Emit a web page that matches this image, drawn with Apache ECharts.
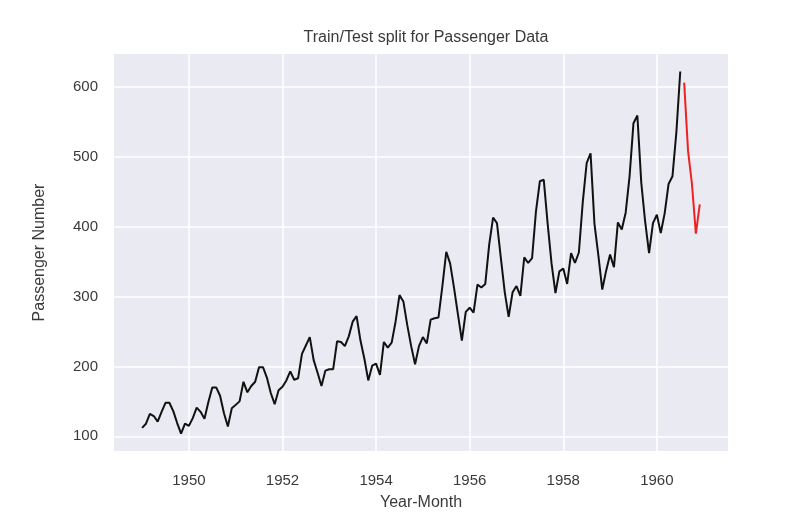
<!DOCTYPE html>
<html>
<head>
<meta charset="utf-8">
<script src="https://cdn.jsdelivr.net/npm/echarts@6/dist/echarts.min.js"></script>
<style>
  html, body { margin: 0; padding: 0; background: #fff; }
  #chart { width: 810px; height: 518px; }
</style>
</head>
<body>
<div id="chart"></div>
<script>
// monthly passengers, 1949-01 .. 1960-12
const years = [1949, 1950, 1951, 1952, 1953, 1954, 1955, 1956, 1957, 1958, 1959, 1960]
const passengers = [
  112,118,132,129,121,135,148,148,136,119,104,118,
  115,126,141,135,125,149,170,170,158,133,114,140,
  145,150,178,163,172,178,199,199,184,162,146,166,
  171,180,193,181,183,218,230,242,209,191,172,194,
  196,196,236,235,229,243,264,272,237,211,180,201,
  204,188,235,227,234,264,302,293,259,229,203,229,
  242,233,267,269,270,315,364,347,312,274,237,278,
  284,277,317,313,318,374,413,405,355,306,271,306,
  315,301,356,348,355,422,465,467,404,347,305,336,
  340,318,362,348,363,435,491,505,404,359,310,337,
  360,342,406,396,420,472,548,559,463,407,362,405,
  417,391,419,461,472,535,622,606,508,461,390,432
]
const trainCount = 139   // up to 1960-07, rest is test
const xTicks = [1950, 1952, 1954, 1956, 1958, 1960]
const yTicks = [100, 200, 300, 400, 500, 600]

const points = passengers.map((v, i) => [years[0] + i / 12, v])
const train = points.slice(0, trainCount)
const test = points.slice(trainCount)

const myChart = echarts.init(document.getElementById('chart'))
const textColor = '#3a3a3a'

const option = {
  animation: false,
  textStyle: { fontFamily: 'Liberation Sans, Arial, sans-serif' },
  title: {
    text: 'Train/Test split for Passenger Data',
    left: 421, top: 25, textAlign: 'center',
    textStyle: { fontSize: 16, fontWeight: 'normal', color: textColor }
  },
  grid: {
    left: 114, right: 82, top: 54, bottom: 67,
    show: true, backgroundColor: '#EAEAF2', borderWidth: 0
  },
  xAxis: {
    type: 'value',
    min: 1948.4, max: 1961.52,
    name: 'Year-Month', nameLocation: 'middle', nameGap: 44,
    nameTextStyle: { fontSize: 16, color: textColor },
    axisLine: { show: false },
    axisTick: { show: false, customValues: xTicks },
    axisLabel: {
      customValues: xTicks, fontSize: 15, color: textColor, margin: 22,
      formatter: v => String(v)
    },
    splitLine: { show: true, lineStyle: { color: '#fff', width: 1.5 } }
  },
  yAxis: {
    type: 'value',
    min: 79, max: 647,
    name: 'Passenger Number', nameLocation: 'middle', nameGap: 66,
    nameTextStyle: { fontSize: 16, color: textColor },
    axisLine: { show: false },
    axisTick: { show: false, customValues: yTicks },
    axisLabel: { customValues: yTicks, fontSize: 15, color: textColor, margin: 16 },
    splitLine: { show: true, lineStyle: { color: '#fff', width: 1.5 } }
  },
  series: [
    {
      name: 'train', type: 'line', data: train,
      symbol: 'none', lineStyle: { color: '#111', width: 2 }
    },
    {
      name: 'test', type: 'line', data: test,
      symbol: 'none', lineStyle: { color: '#ee2222', width: 2 }
    }
  ]
}
myChart.setOption(option)
</script>
</body>
</html>
